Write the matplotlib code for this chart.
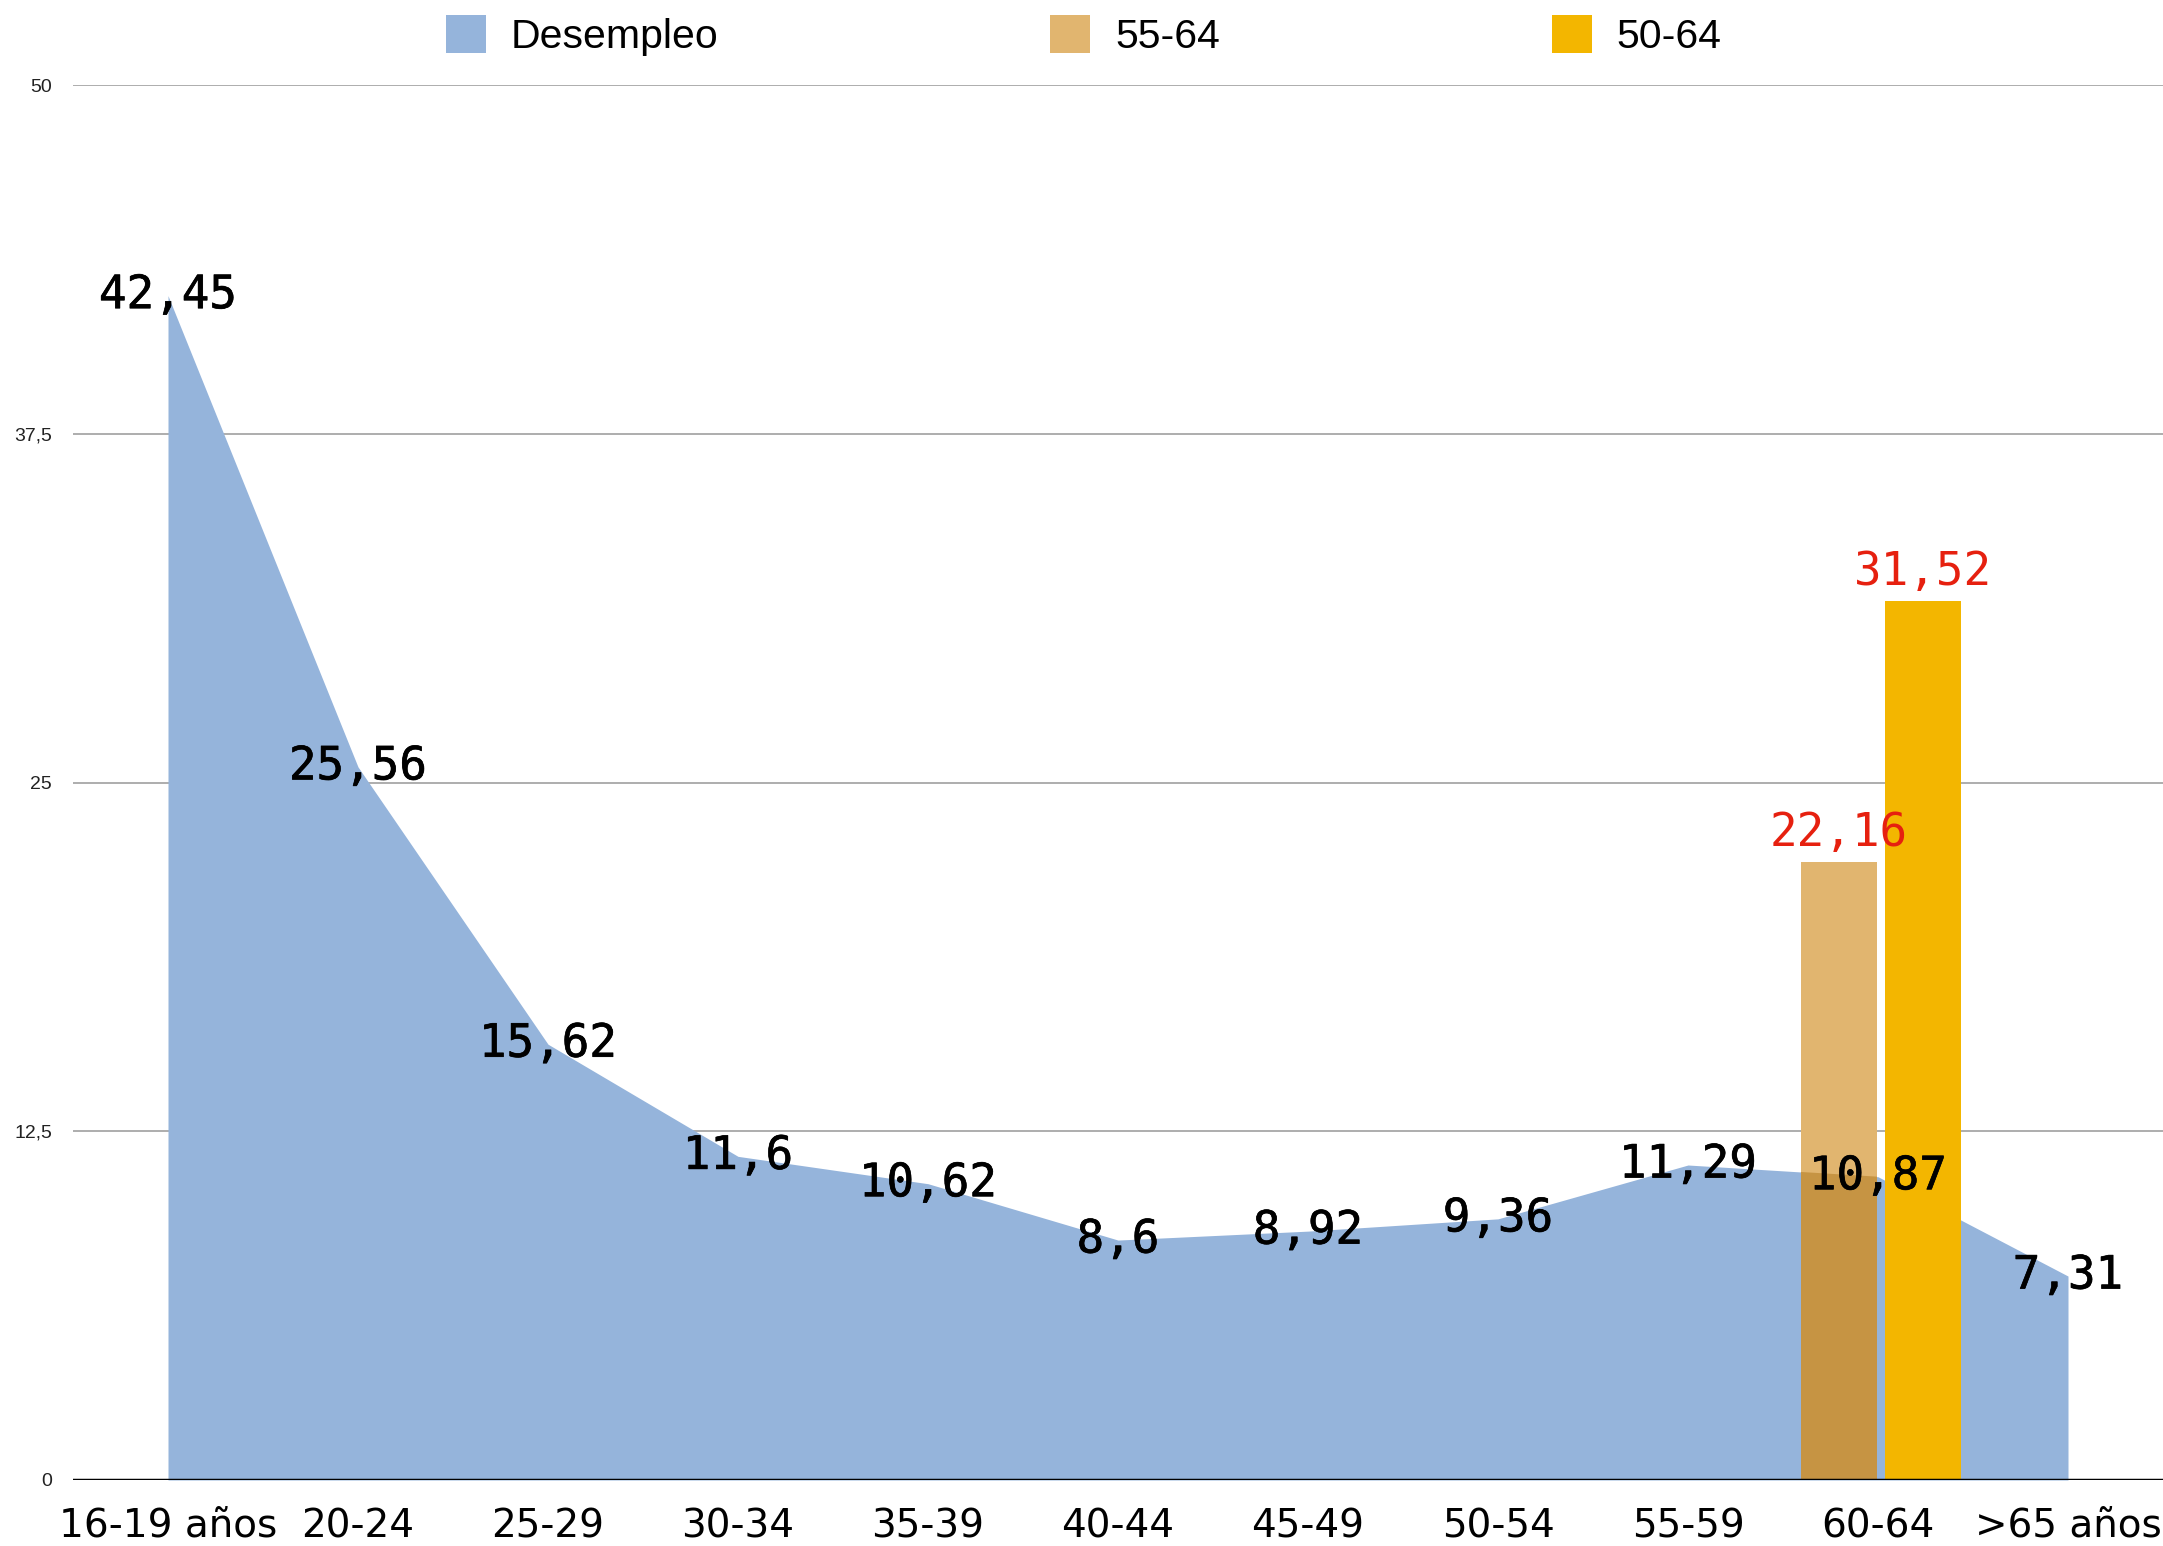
import numpy as np
import matplotlib.pyplot as plt
import matplotlib.patheffects as pe

#%% data
categories = ['16-19 años', '20-24', '25-29', '30-34', '35-39', '40-44',
              '45-49', '50-54', '55-59', '60-64', '>65 años']
desempleo = [42.45, 25.56, 15.62, 11.6, 10.62, 8.6, 8.92, 9.36, 11.29, 10.87, 7.31]
desempleo_txt = ['42,45', '25,56', '15,62', '11,6', '10,62', '8,6',
                 '8,92', '9,36', '11,29', '10,87', '7,31']
bar_cat = '60-64'
val_55_64 = 22.16
val_50_64 = 31.52
yticks = [0, 12.5, 25, 37.5, 50]
yticklabels = ['0', '12,5', '25', '37,5', '50']

#%% colours
c_blue = '#95B4DB'
c_tan = '#E1B56F'
c_tan_dark = '#C69443'
c_gold = '#F3B600'
c_red = '#E6200F'

#%% figure
fig = plt.figure(figsize=(21.63, 15.46), dpi=100)
ax = fig.add_axes([73/2163, 1 - 1480/1546, 1 - 73/2163, (1480 - 85)/1546])

x = np.arange(len(categories))
area = ax.fill_between(x, desempleo, 0, color=c_blue, lw=0, zorder=2,
                       label='Desempleo')

ib = categories.index(bar_cat)
w = 0.4
b55 = ax.bar(ib - 0.205, val_55_64, width=w, color=c_tan, zorder=3, label='55-64')
# darker where the 55-64 bar overlaps the area
b55d = ax.bar(ib - 0.205, val_55_64, width=w, color=c_tan_dark, zorder=4)
for p in b55d.patches:
    p.set_clip_path(area.get_paths()[0], ax.transData)
b50 = ax.bar(ib + 0.235, val_50_64, width=w, color=c_gold, zorder=5, label='50-64')

# value labels
thick = [pe.withStroke(linewidth=0.5, foreground='black')]
for i, (v, t) in enumerate(zip(desempleo, desempleo_txt)):
    ax.text(i, v, t, ha='center', va='center', fontsize=33,
            family='DejaVu Sans Mono', color='black', zorder=7,
            path_effects=thick)
ax.annotate('22,16', (ib - 0.205, val_55_64), xytext=(0, 11),
            textcoords='offset points', ha='center', va='baseline',
            fontsize=33, family='DejaVu Sans Mono', color=c_red, zorder=7)
ax.annotate('31,52', (ib + 0.235, val_50_64), xytext=(0, 11),
            textcoords='offset points', ha='center', va='baseline',
            fontsize=33, family='DejaVu Sans Mono', color=c_red, zorder=7)

#%% axes styling
ax.set_xlim(-0.5, len(categories) - 0.5)
ax.set_ylim(0, 50)
for s in ax.spines.values():
    s.set_visible(False)
ax.set_yticks(yticks)
ax.set_yticklabels(yticklabels, family='Liberation Sans', fontsize=14, color='#222222')
ax.set_xticks(x)
ax.set_xticklabels(categories, family='DejaVu Sans', fontsize=28)
ax.tick_params(axis='y', length=0, pad=15)
ax.tick_params(axis='x', length=0, pad=20)
ax.yaxis.grid(True, color='#A0A0A0', lw=1.2, zorder=1)
ax.set_axisbelow(True)
ax.axhline(0, color='black', lw=2.5, zorder=6)

fig.legend(handles=[area, b55, b50], labels=['Desempleo', '55-64', '50-64'],
           loc='center', bbox_to_anchor=(0.501, 0.977), ncol=3, frameon=False,
           prop={'family': 'Liberation Sans', 'size': 29.5},
           handlelength=0.98, handleheight=1.05, handletextpad=0.6,
           columnspacing=8.1, borderpad=0)

fig.savefig('out.png', dpi=100)
